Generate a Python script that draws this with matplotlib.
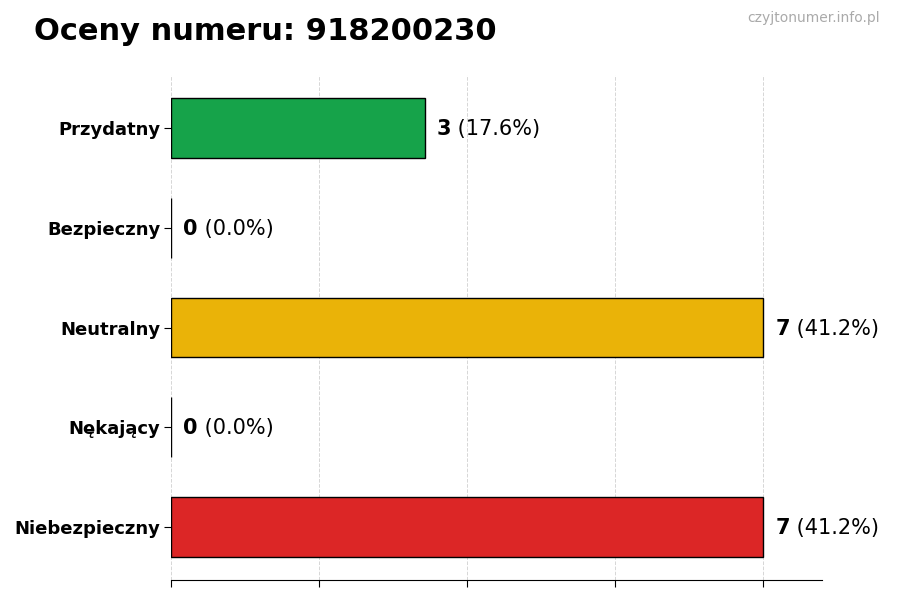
import matplotlib
matplotlib.use("Agg")
import matplotlib.pyplot as plt
import numpy as np

categories = ["Przydatny", "Bezpieczny", "Neutralny", "Nękający", "Niebezpieczny"]
values = [3, 0, 7, 0, 7]
colors = ["#16a34a", "#16a34a", "#eab308", "#dc2626", "#dc2626"]
title = "Oceny numeru: 918200230"
watermark = "czyjtonumer.info.pl"

total = sum(values)
fig = plt.figure(figsize=(9, 6), dpi=100)
ax = fig.add_axes([0.19, 0.0333, 0.7233, 0.8417])

y = np.arange(len(categories))
ax.barh(y, values, height=0.6, color=colors, edgecolor="black", linewidth=1, zorder=3)
ax.set_yticks(y)
ax.set_yticklabels(categories, fontsize=13, fontweight="bold")
ax.invert_yaxis()

vmax = max(values)
ax.set_xlim(0, vmax * 1.1)
ax.set_xticks(np.linspace(0, vmax, 5))
ax.set_xticklabels([])
ax.grid(axis="x", linestyle="--", color="#d6d6d6", linewidth=0.7, zorder=0)
ax.set_axisbelow(True)
for s in ["top", "right", "left"]:
    ax.spines[s].set_visible(False)
ax.tick_params(axis="both", length=5)
ax.tick_params(axis="y", pad=2.5)

off = vmax * 1.1 * 0.019
for yi, v in zip(y, values):
    pct = 100.0 * v / total if total else 0
    t1 = ax.text(v + off, yi + 0.01, f"{v}", fontsize=15, fontweight="bold", va="center", ha="left")
    ax.annotate(f" ({pct:.1f}%)", xy=(1, 0), xycoords=t1, fontsize=15, va="bottom", ha="left")

fig.text(0.038, 0.948, title, fontsize=22, fontweight="bold", va="center", ha="left")
fig.text(0.978, 0.97, watermark, fontsize=10, color="#aaaaaa", va="center", ha="right")

fig.savefig("out.png", dpi=100)
